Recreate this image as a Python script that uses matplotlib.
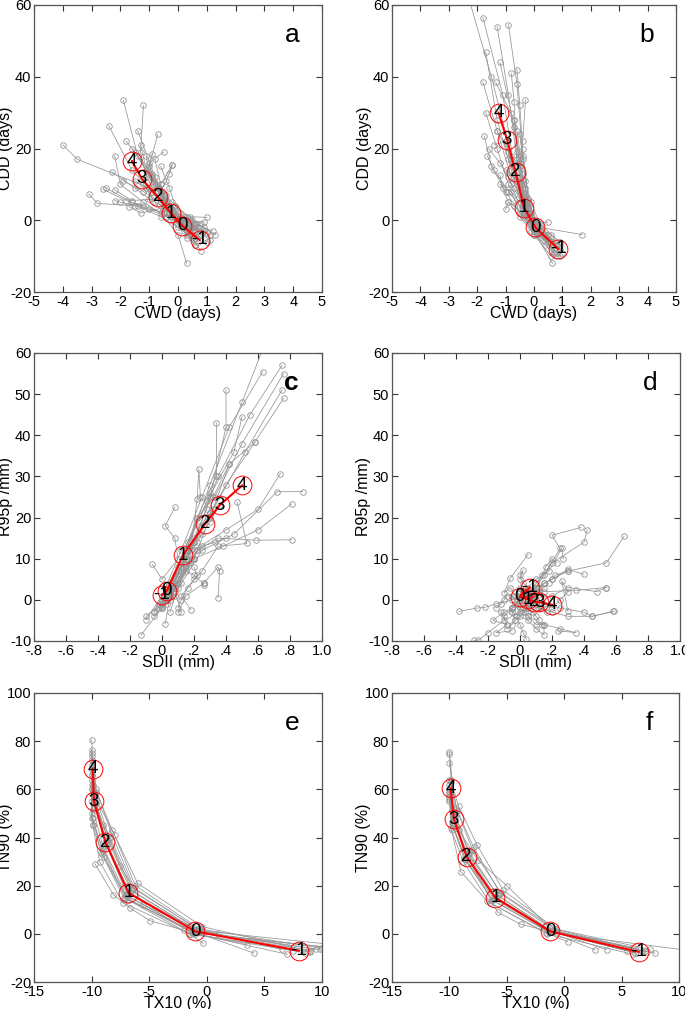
import matplotlib
matplotlib.use("Agg")
import matplotlib.pyplot as plt

plt.rcParams['font.family'] = ['Liberation Sans', 'DejaVu Sans']
plt.rcParams['axes.unicode_minus'] = False

LAGS = ["-1", "0", "1", "2", "3", "4"]

# ---------------- panel a: CWD vs CDD ----------------
a_mean_x = [0.75, 0.15, -0.25, -0.7, -1.25, -1.6]
a_mean_y = [-5.5, -1.5, 2.0, 6.5, 11.5, 16.5]
a_x = [
    [0.9, 0.3, -0.2, -1.0, -3.5, -4.0],
    [0.6, 0.1, -0.4, -1.5, -2.8, -3.1],
    [1.0, 0.4, -0.3, -0.8, -1.4, -1.9],
    [0.7, 0.2, -0.5, -1.1, -1.3, -1.2],
    [1.3, 0.5, -0.3, -0.9, -1.6, -2.4],
    [0.3, 0.0, -0.6, -1.2, -2.0, -2.2],
    [0.8, 0.3, -0.2, -0.6, -1.0, -0.7],
    [1.1, 0.5, -0.2, -0.5, -0.8, -1.4],
    [0.6, 0.2, -0.3, -1.0, -1.5, -2.3],
    [1.0, 0.4, -0.1, -0.6, -1.6, -2.2],
    [0.5, 0.0, -0.5, -1.2, -1.6, -2.5],
    [1.2, 0.6, -0.2, -0.8, -1.0, -0.5],
    [0.7, 0.3, -0.1, -0.4, -0.9, -1.6],
    [0.9, 0.1, -0.4, -0.6, -0.2, -0.3],
    [0.6, 0.2, -0.6, -1.4, -2.0, -2.2],
    [0.4, 0.1, -0.4, -0.9, -1.5, -1.8],
    [0.8, 0.3, -0.2, -0.7, -1.1, -1.3],
    [0.5, 0.0, -0.4, -0.8, -1.2, -0.9],
    [0.9, 0.4, 0.0, -0.5, -1.3, -1.7],
    [0.6, 0.1, -0.3, -0.6, -0.4, -0.2],
    [0.7, 0.2, -0.3, -0.7, -1.0, -1.1],
    [1.0, 0.3, -0.1, -0.5, -0.9, -1.5],
    [0.5, 0.1, -0.3, -0.6, -1.2, -1.9],
    [0.8, 0.2, -0.4, -1.0, -1.8, -2.6],
    [0.3, 0.2, -0.2, -0.4, -0.6, -0.8],
    [1.1, 0.4, 0.0, -0.3, -0.6, -1.1],
    [0.6, 0.3, 0.1, -0.2, -0.5, -0.9],
    [0.9, 0.5, 0.2, -0.1, -0.3, -0.6],
]
a_y = [
    [-3, 0, 3, 9, 17, 21],
    [-5, -1, 2, 4, 4.7, 7.3],
    [-3.5, -1, 3, 10, 18, 33.5],
    [-6, -2, 4, 12, 19, 32],
    [-4, 0, 3, 8, 14, 26.3],
    [-12, -4, 2, 5, 10, 18],
    [-8.5, -3, 1, 8, 15, 24],
    [-5.5, -2, 2, 6, 12, 25],
    [-2, 0, 3, 6, 9, 13.5],
    [0.8, 1, 4, 6, 5.5, 8.5],
    [-4, -1, 2, 4, 5, 9],
    [-3, -1, 2, 8, 16, 19],
    [-4.5, -2, 2, 7, 13, 20],
    [-0.5, 0, 4, 10, 15.5, 13],
    [-7, -3, 1, 4, 5, 5.5],
    [-3, 0, 4, 11, 19, 22],
    [-1, 1, 5, 9, 14, 21],
    [-5, -2, 1, 5, 10, 18.5],
    [-2, 0, 2, 3.5, 2, 3.8],
    [-3, -1, 3, 8, 11, 15.5],
    [-2, 0, 4, 9, 13, 18],
    [-6, -2, 1, 4, 8, 11],
    [-5, -2, 2, 5, 8, 11],
    [-4, -1, 1, 3, 5.5, 8.6],
    [-5, -2, 2, 5, 10, 17],
    [-4, -2, 0, 3, 6, 9],
    [-7, -4, -1, 3, 7, 12],
    [-3, -2, 1, 4, 9, 15],
]

# ---------------- panel b: CWD vs CDD ----------------
b_mean_x = [0.85, 0.05, -0.35, -0.65, -0.95, -1.25]
b_mean_y = [-8.0, -2.0, 3.5, 13.5, 22.5, 30.0]
b_x = [
    [0.7, 0.1, -0.3, -0.8, -1.5, -2.3],
    [0.9, 0.1, -0.4, -0.7, -1.1, -1.8],
    [0.65, 0.0, -0.3, -0.6, -0.9, -1.3],
    [0.8, 0.05, -0.2, -0.4, -0.6, -0.9],
    [1.7, 0.2, -0.3, -0.5, -0.8, -1.2],
    [0.8, 0.1, -0.4, -0.8, -1.3, -1.7],
    [0.6, 0.0, -0.3, -0.8, -1.3, -1.8],
    [0.7, 0.2, -0.2, -0.5, -0.7, -1.35],
    [0.5, 0.1, -0.2, -0.4, -0.5, -0.6],
    [0.9, 0.05, -0.3, -0.6, -0.7, -0.8],
    [0.7, 0.0, -0.5, -0.9, -1.3, -1.7],
    [0.6, 0.0, -0.5, -1.0, -1.5, -1.75],
    [0.8, 0.1, -0.3, -0.9, -1.4, -1.65],
    [0.5, -0.1, -0.5, -0.9, -1.1, -1.2],
    [0.4, -0.1, -0.4, -0.7, -0.9, -1.0],
    [0.9, 0.2, -0.2, -0.5, -0.4, -0.3],
    [0.7, 0.1, -0.3, -0.7, -1.0, -1.4],
    [0.6, 0.0, -0.4, -0.6, -0.9, -1.3],
    [1.0, 0.2, -0.2, -0.4, -0.6, -0.7],
    [0.5, 0.1, -0.3, -0.7, -1.2, -1.6],
    [0.6, 0.1, -0.2, -0.4, -0.5, -0.7],
    [0.8, 0.1, -0.3, -0.5, -0.8, -1.0],
    [0.5, 0.0, -0.3, -0.5, -0.7, -0.9],
    [0.7, 0.0, -0.2, -0.3, -0.5, -0.6],
    [0.4, 0.0, -0.2, -0.5, -0.8, -1.2],
    [0.9, 0.2, -0.1, -0.3, -0.4, -0.5],
    [0.6, 0.1, -0.1, -0.3, -0.6, -1.0],
    [0.8, 0.0, -0.4, -0.6, -0.8, -0.9],
]
b_y = [
    [-9, -2, 5, 18, 40, 62],
    [-10, -3, 4, 15, 35, 56.5],
    [-12, -3, 5, 17, 35, 54],
    [-8, -2, 6, 18, 38, 54.5],
    [-4, -2, 4, 16, 30, 44],
    [-7, -1, 4, 14, 28, 47],
    [-6, -2, 3, 12, 25, 38.5],
    [-9, -3, 5, 15, 28, 38.5],
    [-0.5, -1, 6, 20, 32, 42],
    [-7, -2, 4, 16, 33, 41],
    [-8, -3, 2, 10, 20, 30],
    [-5, -2, 2, 8, 15, 23.5],
    [-7, -4, 2, 8, 14, 18],
    [-6, -3, 1, 5, 9, 12.5],
    [-5, -1, 2, 4, 5, 3],
    [-8, -3, 3, 12, 22, 33.5],
    [-6, -1, 4, 13, 22, 21],
    [-10, -4, 3, 11, 19, 25],
    [-9, -2, 5, 13, 25, 28],
    [-4, -1, 3, 9, 16, 20],
    [-7, -2, 4, 10, 18, 26],
    [-9, -3, 3, 10, 17, 22],
    [-6, -2, 2, 8, 13, 17],
    [-8, -3, 3, 9, 15, 19],
    [-7, -3, 0, 5, 8, 10],
    [-6, -1, 5, 11, 17, 24],
    [-4, -2, 2, 7, 11, 14],
    [-10, -4, 1, 6, 10, 12],
]

# ---------------- panel c: SDII vs R95p ----------------
c_mean_x = [0.0, 0.03, 0.13, 0.27, 0.36, 0.5]
c_mean_y = [1.2, 2.2, 10.8, 18.5, 23.0, 27.8]
c_x = [
    [-0.05, 0.0, 0.15, 0.3, 0.5, 0.7],
    [0.0, 0.05, 0.2, 0.35, 0.55, 0.75],
    [0.05, 0.08, 0.18, 0.33, 0.5, 0.76],
    [-0.02, 0.03, 0.15, 0.32, 0.52, 0.75],
    [0.02, 0.06, 0.2, 0.4, 0.58, 0.76],
    [-0.1, 0.0, 0.12, 0.25, 0.42, 0.63],
    [0.0, 0.04, 0.16, 0.3, 0.4, 0.4],
    [-0.13, 0.0, 0.1, 0.22, 0.34, 0.34],
    [0.02, 0.05, 0.15, 0.28, 0.45, 0.5],
    [0.12, 0.08, 0.2, 0.3, 0.42, 0.58],
    [-0.05, 0.03, 0.12, 0.22, 0.32, 0.42],
    [0.05, 0.1, 0.2, 0.4, 0.6, 0.74],
    [0.08, 0.12, 0.25, 0.45, 0.72, 0.88],
    [0.0, 0.08, 0.2, 0.38, 0.6, 0.81],
    [0.03, 0.1, 0.22, 0.35, 0.59, 0.81],
    [0.18, 0.12, 0.25, 0.35, 0.53, 0.47],
    [-0.06, 0.0, 0.1, 0.08, 0.02, 0.08],
    [0.1, 0.15, 0.26, 0.35, 0.36, 0.35],
    [-0.1, 0.02, 0.15, 0.2, 0.26, 0.26],
    [0.0, 0.05, 0.17, 0.22, 0.23, 0.24],
    [0.0, 0.05, 0.12, 0.2, 0.28, 0.3],
    [-0.05, 0.02, 0.1, 0.18, 0.24, 0.3],
    [0.02, 0.06, 0.14, 0.22, 0.3, 0.36],
    [-0.02, 0.03, 0.1, 0.15, 0.2, 0.25],
    [0.05, 0.1, 0.18, 0.25, 0.33, 0.4],
    [0.0, 0.05, 0.1, 0.15, 0.2, 0.22],
    [0.1, 0.12, 0.16, 0.2, 0.22, 0.2],
]
c_y = [
    [-3, 1, 12, 28, 48, 68],
    [-2, 2, 14, 30, 45, 57],
    [0, 3, 12, 25, 38, 55],
    [-1, 2, 10, 22, 36, 51],
    [1, 3, 14, 28, 38.3, 49],
    [-4.8, 1, 12, 25, 42, 55.5],
    [0, 2, 14, 25, 42, 51],
    [-8.5, -2, 8, 20, 30, 43],
    [-5.8, 1, 12, 24, 36, 44.5],
    [-3, 2, 10, 20, 33, 38.3],
    [-4, 0, 8, 20, 25, 33],
    [-3, 3, 12, 17, 22, 30.7],
    [1, 4, 12, 16, 26.3, 26.3],
    [-2, 3, 10, 13, 17, 23.3],
    [-1, 4, 12, 15, 14.5, 14.6],
    [-2.4, 1, 7, 13, 13.7, 23.7],
    [8.6, 5, 10, 15, 18, 22.5],
    [-3, 1, 4, 8, 7, 0.5],
    [-4, 0, 7, 6, 4, 3.5],
    [-1, 2, 9, 24.6, 31.8, 25],
    [-1, 2, 8, 15, 22, 26],
    [-3, 0, 7, 13, 18, 21],
    [0, 3, 9, 14, 19, 23],
    [-2, 1, 6, 10, 14, 16],
    [1, 4, 10, 13, 14, 15],
    [-1.5, 1, 5, 8, 10, 12],
    [-2, 0, 3, 5, 6, 8],
]

# ---------------- panel d: SDII vs R95p ----------------
d_mean_x = [0.06, 0.0, 0.05, 0.09, 0.12, 0.2]
d_mean_y = [3.0, 0.7, 0.2, -0.5, -0.6, -1.2]
d_x = [
    [0.05, 0.0, 0.1, 0.3, 0.54, 0.65],
    [0.05, 0.08, 0.15, 0.25, 0.2, 0.38],
    [0.0, 0.05, 0.1, 0.2, 0.4, 0.42],
    [0.0, -0.05, -0.15, -0.22, -0.27, -0.38],
    [0.1, 0.15, 0.25, 0.4, 0.45, 0.59],
    [-0.05, 0.0, 0.05, 0.15, 0.35, 0.54],
    [0.0, 0.05, 0.2, 0.3, 0.48, 0.54],
    [0.05, 0.0, -0.1, -0.2, -0.26, -0.29],
    [0.1, 0.05, 0.15, 0.25, 0.35, 0.24],
    [0.0, -0.05, 0.05, 0.1, 0.15, 0.15],
    [0.02, -0.03, -0.06, -0.1, -0.06, 0.05],
    [0.05, 0.1, 0.15, 0.2, 0.3, 0.4],
    [0.0, 0.05, 0.1, 0.18, 0.26, 0.27],
    [0.05, 0.1, 0.02, 0.0, 0.02, 0.0],
    [0.1, 0.2, 0.25, 0.3, 0.26, 0.3],
    [-0.05, -0.1, -0.17, -0.08, -0.15, -0.05],
    [0.05, 0.12, 0.2, 0.3, 0.45, 0.58],
    [0.0, -0.02, -0.05, -0.1, -0.08, -0.12],
    [0.08, 0.1, 0.14, 0.16, 0.2, 0.23],
    [0.02, 0.0, -0.02, 0.0, 0.02, 0.04],
    [0.0, 0.02, 0.05, 0.08, 0.1, 0.12],
    [0.03, 0.0, -0.03, -0.05, -0.05, -0.03],
    [0.05, 0.07, 0.09, 0.12, 0.15, 0.18],
    [-0.02, -0.05, -0.08, -0.1, -0.12, -0.15],
    [0.06, 0.03, 0.0, 0.05, 0.1, 0.14],
    [0.0, 0.04, 0.08, 0.1, 0.13, 0.17],
    [0.04, 0.02, 0.0, -0.03, -0.05, -0.08],
    [0.1, 0.12, 0.15, 0.2, 0.22, 0.3],
]
d_y = [
    [2, 0, 3, 7, 9, 15.4],
    [1, 2, 6, 12.5, 15.7, 17.6],
    [3, 1, 4, 9, 14, 17],
    [1, 0, -1, -1.8, -2, -2.8],
    [0, -1, -2, -3, -4, -2.8],
    [-2, 0, 1, 2, 2.3, 3],
    [2, 0, 1, 3, 2, 3],
    [-1, -3, -5, -8, -9.8, -9.8],
    [-2, -4, -6, -7, -8, -7.5],
    [-1, -3, -5, -7, -8.5, -6],
    [0, 1, 3, 1.7, 5.3, 11],
    [1, 2, 4, 5, 7.4, 6.2],
    [2, 3, 5, 7, 12.5, 10],
    [-1, 2, 4, 6, 7.3, 5],
    [-1, -2, 0, 2, 4.6, -2.8],
    [-2, -3, -5, -6, -8, -7.5],
    [-1, -2, -3, -4, -4, -2.8],
    [0, -1, -2, -4, -6, -3],
    [1, 3, 6, 8, 10, 9],
    [-1, -2, -4, -6, -8, -9.5],
    [0, -1, -2, -3, -4, -5],
    [1, 0, -1, -2, -3, -5],
    [0, 1, 1, 2, 3, 4],
    [0, 1, 1, 0, -1, -2],
    [-1, -3, -2, -4, -6, -6],
    [2, 1, 0, -1, -2, -3],
    [-2, -3, -4, -5, -6, -7],
    [2, 3, 4, 5, 6, 7],
]

# ---------------- panel e: TX10 vs TN90 ----------------
e_mean_x = [8.0, -1.0, -6.8, -8.8, -9.8, -9.9]
e_mean_y = [-7.0, 1.0, 17.0, 38.0, 55.0, 68.5]
e_x = [
    [9.0, -0.8, -6.5, -8.5, -9.7, -10.0],
    [9.5, -1.0, -6.8, -8.8, -9.8, -10.0],
    [8.5, -0.5, -6.3, -8.3, -9.6, -10.0],
    [11.0, -1.2, -7.0, -9.0, -9.9, -10.0],
    [12.0, -0.9, -6.7, -8.7, -9.7, -10.0],
    [7.5, -1.5, -7.2, -9.2, -10.0, -10.0],
    [10.0, -0.6, -6.2, -8.0, -9.5, -10.0],
    [4.1, -1.2, -6.8, -8.9, -9.9, -10.0],
    [3.5, -1.3, -7.0, -9.1, -9.9, -10.0],
    [-0.3, -2.0, -4.9, -6.7, -8.1, -9.7],
    [9.8, -0.7, -6.6, -8.6, -9.8, -10.0],
    [7.0, -1.0, -6.9, -8.7, -9.7, -10.0],
    [8.8, -0.4, -6.0, -8.2, -9.6, -10.0],
    [10.5, -1.1, -7.1, -9.0, -10.0, -10.0],
    [6.5, -0.8, -6.4, -8.4, -9.8, -9.9],
    [9.0, -1.5, -7.3, -9.3, -9.9, -10.0],
    [1.0, -0.5, -5.5, -7.5, -9.0, -10.0],
]
e_y = [
    [-7, 1, 18, 40, 58, 80.5],
    [-6.5, 1, 17, 38, 56, 76.5],
    [-8, 1, 19, 42, 60, 75],
    [-6, 0.5, 16, 36, 52, 72],
    [-5, 1.5, 17, 38, 55, 70],
    [-7, 0, 15, 34, 50, 66],
    [-6, 2, 20, 41, 55, 64],
    [-8, 1, 14, 32, 48, 62],
    [-4.5, 0.5, 15, 33, 45, 60],
    [-4, 1.5, 5.4, 10.8, 16.2, 29],
    [-6.5, 1, 18, 39, 57, 74],
    [-8.5, 0, 16, 37, 54, 68],
    [-7, 3, 21, 43, 59, 66],
    [-5.5, 0.5, 15, 35, 48, 58],
    [-6.5, 2, 19, 40, 53, 62],
    [-7.5, 0, 13, 30, 45, 55],
    [0, 1.5, 12, 28, 45, 60],
]

# ---------------- panel f: TX10 vs TN90 ----------------
f_mean_x = [6.5, -1.2, -6.0, -8.5, -9.6, -9.9]
f_mean_y = [-7.5, 1.0, 15.0, 32.0, 47.5, 60.5]
f_x = [
    [6.2, -1.0, -5.8, -8.3, -9.5, -10.0],
    [7.9, -1.2, -6.0, -8.5, -9.6, -10.0],
    [6.8, -0.8, -5.5, -8.0, -9.4, -10.0],
    [11.0, -1.3, -6.2, -8.7, -9.8, -10.0],
    [6.0, -1.5, -6.5, -8.8, -9.9, -10.0],
    [2.7, -1.4, -6.3, -8.6, -9.7, -10.0],
    [3.7, -1.0, -5.9, -8.4, -9.6, -10.0],
    [0.3, -1.6, -6.7, -9.0, -9.8, -10.0],
    [7.2, -0.9, -5.6, -7.9, -9.3, -9.9],
    [6.5, -1.1, -5.8, -8.3, -9.5, -10.0],
    [7.5, -0.7, -5.3, -7.6, -9.2, -9.9],
    [5.5, -1.2, -6.1, -8.6, -9.7, -10.0],
    [6.3, -3.8, -5.8, -8.2, -9.4, -10.0],
    [7.0, -1.0, -5.0, -7.5, -9.2, -9.9],
]
f_y = [
    [-8, 1, 16, 34, 50, 75.5],
    [-8, 1, 15, 32, 48, 74.5],
    [-7, 2, 17, 35, 52, 71],
    [-7, 0.5, 14, 31, 46, 64],
    [-8.5, 0, 13, 30, 44, 62],
    [-6.7, 1, 14, 31, 45, 60],
    [-6.6, 1, 15, 33, 47, 58],
    [-3.3, 0.5, 13.5, 25.8, 43, 56],
    [-7.5, 1.5, 17, 36, 51, 63],
    [-6, 1, 16, 33, 49, 59],
    [-6.5, 2, 18, 37, 53, 64],
    [-7, 0.8, 14.5, 31, 45, 57],
    [-8, 4, 9, 30, 44, 55],
    [-7.2, 1.5, 20, 30.5, 43, 58],
]

W, H = 685, 1009
fig = plt.figure(figsize=(W / 100, H / 100), dpi=100)


def rect(l, t, r, b):
    return [l / W, (H - b) / H, (r - l) / W, (b - t) / H]


def panel(box, gx, gy, mx, my, xlim, ylim, xticks, yticks, xlab, ylab, letter,
          xticklabels=None, letter_weight='normal'):
    ax = fig.add_axes(rect(*box))
    for xs, ys in zip(gx, gy):
        ax.plot(xs, ys, color='#959595', lw=0.55, marker='o', ms=4,
                mfc='none', mec='#959595', mew=0.6, zorder=2)
    ax.plot(mx, my, color='red', lw=1.5, zorder=3)
    ax.plot(mx, my, ls='none', marker='o', ms=13.5, mfc='none',
            mec='red', mew=0.7, zorder=4)
    for x, y, s in zip(mx, my, LAGS):
        ax.text(x, y, s, ha='center', va='center', fontsize=13.5,
                color='black', zorder=5)
    ax.set_xlim(*xlim)
    ax.set_ylim(*ylim)
    ax.set_xticks(xticks)
    if xticklabels is not None:
        ax.set_xticklabels(xticklabels)
    ax.set_yticks(yticks)
    ax.tick_params(direction='in', top=True, right=True, length=4.5,
                   width=0.8, color='#333333', labelsize=10.5, pad=2)
    for sp in ax.spines.values():
        sp.set_color('#555555')
        sp.set_linewidth(0.9)
    ax.set_xlabel(xlab, fontsize=11.5)
    ax.xaxis.set_label_coords(0.5, -0.074)
    ax.xaxis.label.set_va('center')
    ax.set_ylabel(ylab, fontsize=11.5)
    ax.yaxis.set_label_coords(-0.098, 0.5)
    ax.yaxis.label.set_va('center')
    ax.text(0.895, 0.895, letter, transform=ax.transAxes, ha='center',
            va='center', fontsize=19, fontweight=letter_weight)
    return ax


sdii_ticks = [-0.8, -0.6, -0.4, -0.2, 0, 0.2, 0.4, 0.6, 0.8, 1.0]
sdii_labels = ['-.8', '-.6', '-.4', '-.2', '0', '.2', '.4', '.6', '.8', '1.0']

panel((34, 5, 322, 292), a_x, a_y, a_mean_x, a_mean_y, (-5, 5), (-20, 60),
      range(-5, 6), [-20, 0, 20, 40, 60], 'CWD (days)', 'CDD (days)', 'a')
panel((392, 5, 676, 292), b_x, b_y, b_mean_x, b_mean_y, (-5, 5), (-20, 60),
      range(-5, 6), [-20, 0, 20, 40, 60], 'CWD (days)', 'CDD (days)', 'b')
panel((34, 353, 322, 641), c_x, c_y, c_mean_x, c_mean_y, (-0.8, 1.0), (-10, 60),
      sdii_ticks, range(-10, 61, 10), 'SDII (mm)', 'R95p /mm)', 'c', sdii_labels,
      letter_weight='bold')
panel((392, 353, 680, 641), d_x, d_y, d_mean_x, d_mean_y, (-0.8, 1.0), (-10, 60),
      sdii_ticks, range(-10, 61, 10), 'SDII (mm)', 'R95p /mm)', 'd', sdii_labels)
panel((34, 693, 322, 982), e_x, e_y, e_mean_x, e_mean_y, (-15, 10), (-20, 100),
      range(-15, 11, 5), range(-20, 101, 20), 'TX10 (%)', 'TN90 (%)', 'e')
panel((392, 693, 679, 982), f_x, f_y, f_mean_x, f_mean_y, (-15, 10), (-20, 100),
      range(-15, 11, 5), range(-20, 101, 20), 'TX10 (%)', 'TN90 (%)', 'f')

fig.savefig('out.png', dpi=100)
